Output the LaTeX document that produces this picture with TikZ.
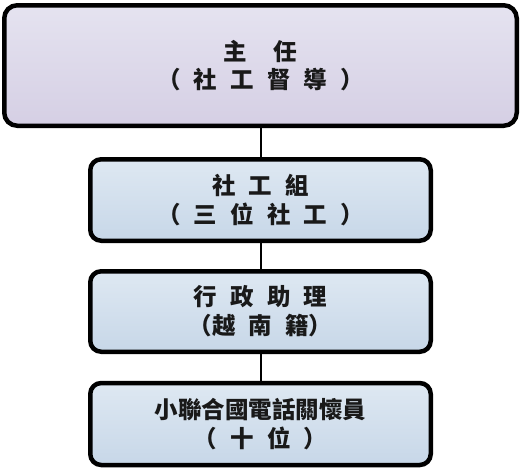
\documentclass[tikz,border=0pt]{standalone}
\usepackage{fontspec}
\newfontfamily\cjk{Noto Sans CJK TC Black}
\newcommand\boxfontA{\cjk\fontsize{23.5}{29}\selectfont\setlength{\spaceskip}{13.2pt}}
\newcommand\boxfontB{\cjk\fontsize{23.5}{27.5}\selectfont\setlength{\spaceskip}{13.2pt}}
\definecolor{lavtop}{RGB}{229,227,240}
\definecolor{lavbot}{RGB}{213,207,228}
\definecolor{bluetop}{RGB}{222,232,242}
\definecolor{bluebot}{RGB}{199,215,232}
\tikzset{
  box/.style={draw=black, line width=4.5pt, rounded corners=11pt, inner sep=0pt,
    align=center, text=black!90, font=\boxfontA},
  topbox/.style={box, top color=lavtop, bottom color=lavbot, rounded corners=13pt,
    minimum width=512.5pt, minimum height=120.5pt, font=\boxfontB},
  subbox/.style={box, top color=bluetop, bottom color=bluebot,
    minimum width=340.5pt, minimum height=81.5pt},
  link/.style={draw=black, line width=2pt}
}
\begin{document}
\begin{tikzpicture}[x=1pt,y=-1pt]
\useasboundingbox (0,0) rectangle (522,469);
\node[topbox] (chief) at (260.5,65.5) {主~~任\\（ 社 工 督 導 ）};
\node[subbox] (social) at (260.5,200) {社 工 組\\（ 三 位 社 工 ）};
\node[subbox, minimum height=80.5pt] (admin) at (260.5,311.5) {行 政 助 理\\（越 南 籍）};
\node[subbox, minimum height=82pt] (phone) at (260.5,424) {小聯合國電話關懷員\\（ 十 位 ）};
\draw[link] (chief.south) -- (social.north);
\draw[link] (social.south) -- (admin.north);
\draw[link] (admin.south) -- (phone.north);
\end{tikzpicture}
\end{document}
